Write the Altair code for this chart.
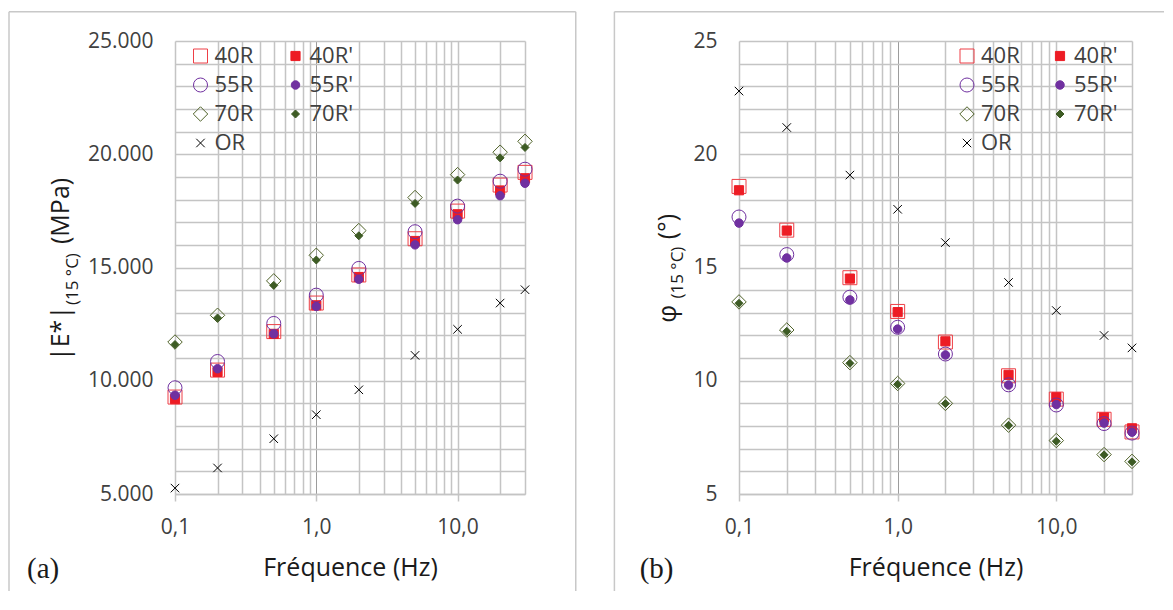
import altair as alt
import pandas as pd

# ---------------- data ----------------
freq = [0.1, 0.2, 0.5, 1, 2, 5, 10, 20, 30]
series = ["40R", "40R'", "55R", "55R'", "70R", "70R'", "OR"]

# |E*| (15 °C) in MPa
e_40r = [9280, 10470, 12170, 13430, 14670, 16270, 17490, 18640, 19200]
e_40r_p = [9190, 10390, 12070, 13330, 14580, 16170, 17350, 18400, 18940]
e_55r = [9690, 10850, 12530, 13780, 14960, 16580, 17710, 18810, 19340]
e_55r_p = [9360, 10530, 12070, 13280, 14480, 16000, 17110, 18170, 18720]
e_70r = [11710, 12890, 14410, 15540, 16630, 18090, 19100, 20090, 20570]
e_70r_p = [11600, 12770, 14210, 15330, 16400, 17830, 18860, 19840, 20300]
e_or = [5260, 6150, 7440, 8500, 9600, 11120, 12270, 13430, 14020]

# phi (15 °C) in degrees
phi_40r = [18.58, 16.65, 14.55, 13.06, 11.71, 10.22, 9.19, 8.30, 7.74]
phi_40r_p = [18.41, 16.63, 14.51, 13.03, 11.74, 10.26, 9.27, 8.38, 7.90]
phi_55r = [17.23, 15.57, 13.69, 12.36, 11.18, 9.82, 8.93, 8.11, 7.69]
phi_55r_p = [16.96, 15.42, 13.57, 12.28, 11.14, 9.81, 8.95, 8.13, 7.73]
phi_70r = [13.48, 12.24, 10.80, 9.88, 9.00, 8.04, 7.36, 6.74, 6.44]
phi_70r_p = [13.42, 12.18, 10.77, 9.84, 8.99, 8.03, 7.33, 6.73, 6.42]
phi_or = [22.79, 21.18, 19.08, 17.57, 16.10, 14.34, 13.10, 12.00, 11.45]

# axis ticks
x_grid = [0.1, 0.2, 0.3, 0.4, 0.5, 0.6, 0.7, 0.8, 0.9,
          1, 2, 3, 4, 5, 6, 7, 8, 9, 10, 20, 30]
e_ticks = list(range(5000, 25001, 1000))
phi_ticks = list(range(5, 26))

# ---------------- styles ----------------
FONT = "Open Sans"
GRID = "#C4C4C4"
BORDER = "#C8C8C8"
stroke_colors = ["#EE3F46", "#ED1C24", "#7030A0", "#7030A0", "#4F6228", "#3D5B24", "#000000"]
fill_colors = ["transparent", "#ED1C24", "transparent", "#7030A0", "transparent", "#3D5B24", "transparent"]
shapes = ["square", "square", "circle", "circle", "diamond", "diamond", "M-1,-1L1,1M1,-1L-1,1"]
marker_sizes = [196, 84, 196, 72, 210, 64, 72]


def make_df(lists):
    rows = []
    for s, vals in zip(series, lists):
        for f, v in zip(freq, vals):
            rows.append({"f": f, "v": v, "s": s})
    return pd.DataFrame(rows)


df_e = make_df([e_40r, e_40r_p, e_55r, e_55r_p, e_70r, e_70r_p, e_or])
df_phi = make_df([phi_40r, phi_40r_p, phi_55r, phi_55r_p, phi_70r, phi_70r_p, phi_or])

major_test = "indexof([0.1, 1, 10], datum.value) >= 0"


def legend(x, colpad):
    return alt.Legend(
        orient="none", legendX=x, legendY=4, columns=2, direction="horizontal",
        title=None, labelFont=FONT, labelFontSize=22, labelColor="#404040",
        symbolStrokeWidth=1, labelOffset=3,
        columnPadding=colpad, rowPadding=7, padding=0,
    )


def x_axis():
    return alt.Axis(
        values=x_grid, title="Fréquence (Hz)",
        labelExpr=f"{major_test} ? replace(format(datum.value, '.1f'), '.', ',') : ''",
        labelFlush=False, labelOverlap=False, labelPadding=15,
        tickSize=7, tickColor=GRID, tickWidth=1.5,
        tickOpacity={"condition": {"test": major_test, "value": 1}, "value": 0},
        gridColor={"condition": {"test": "datum.value == 1", "value": "#9C9C9C"}, "value": GRID},
        gridWidth={"condition": {"test": "datum.value == 1", "value": 1}, "value": 1.5},
        domainColor=GRID, domainWidth=1.5,
        titleY=81, titleBaseline="alphabetic", titleFont=FONT, titleFontSize=25,
        titleFontWeight="normal", titleColor="#1A1A1A",
    )


def y_axis(ticks, label_expr):
    return alt.Axis(
        values=ticks, labelExpr=label_expr, ticks=False, tickSize=0, domain=False,
        labelPadding=22, gridColor=GRID, gridWidth=1.5, labelOverlap=False,
        labelFlush=False,
    )


def text_layer(txt, x, y, size, font=FONT, angle=0, color="#1A1A1A"):
    return alt.Chart(pd.DataFrame({"t": [txt]})).mark_text(
        font=font, fontSize=size, angle=angle, align="left",
        baseline="alphabetic", color=color,
    ).encode(text="t:N", x=alt.value(x), y=alt.value(y))


def vrule(x, y1, y2):
    return alt.Chart(pd.DataFrame({"d": [0]})).mark_rule(
        color=BORDER, strokeWidth=1.5
    ).encode(x=alt.value(x), y=alt.value(y1), y2=alt.value(y2))


def hrule(x1, x2, y):
    return alt.Chart(pd.DataFrame({"d": [0]})).mark_rule(
        color=BORDER, strokeWidth=1.5
    ).encode(x=alt.value(x1), x2=alt.value(x2), y=alt.value(y))


def points(df, y_domain, yax, leg):
    return alt.Chart(df).mark_point(opacity=1, strokeWidth=1).encode(
        x=alt.X("f:Q", scale=alt.Scale(type="log", domain=[0.1, 30], nice=False), axis=x_axis()),
        y=alt.Y("v:Q", scale=alt.Scale(domain=y_domain, nice=False, zero=False), axis=yax, title=None),
        stroke=alt.Stroke("s:N", scale=alt.Scale(domain=series, range=stroke_colors), legend=leg),
        fill=alt.Fill("s:N", scale=alt.Scale(domain=series, range=fill_colors), legend=leg),
        shape=alt.Shape("s:N", scale=alt.Scale(domain=series, range=shapes), legend=leg),
        size=alt.Size("s:N", scale=alt.Scale(type="ordinal", domain=series, range=marker_sizes), legend=leg),
    )


TOP = -29.3
BOT = 550

left = alt.layer(
    vrule(-166, TOP, BOT), vrule(400.75, TOP, BOT), hrule(-166, 400.75, TOP),
    text_layer("|E*|", -106.3, 320, 25, angle=270),
    text_layer("(15 °C)", -96.8, 264, 17, angle=270),
    text_layer("(MPa)", -106.3, 203, 25, angle=270),
    text_layer("(a)", -148, 537, 29, font="Liberation Serif"),
    points(
        df_e, [5000, 25000],
        y_axis(e_ticks, "datum.value % 5000 == 0 ? replace(format(datum.value, ','), ',', '.') : ''"),
        legend(14.5, 31),
    ),
).properties(width=350, height=453)

right = alt.layer(
    vrule(-124.6, TOP, BOT), hrule(-124.6, 425, TOP),
    text_layer("φ", -63.3, 281.7, 25, angle=270),
    text_layer("(15 °C)", -56.1, 257.5, 17, angle=270),
    text_layer("(°)", -63.3, 198.3, 25, angle=270),
    text_layer("(b)", -99.3, 537, 29, font="Liberation Serif"),
    points(
        df_phi, [5, 25],
        y_axis(phi_ticks, "datum.value % 5 == 0 ? format(datum.value, 'd') : ''"),
        legend(217, 29),
    ),
).properties(width=393, height=453)

chart = alt.hconcat(left, right, spacing=36).resolve_scale(
    x="independent", y="independent", stroke="independent",
    fill="independent", shape="independent", size="independent",
).resolve_legend(
    stroke="independent", fill="independent", shape="independent", size="independent",
).properties(
    padding={"left": 0, "top": 2, "right": 0, "bottom": 0}
).configure_axis(
    labelFont=FONT, labelFontSize=21, labelColor="#404040",
).configure_view(strokeWidth=0)

chart.save("out.html", embed_options={"renderer": "svg", "actions": False})
